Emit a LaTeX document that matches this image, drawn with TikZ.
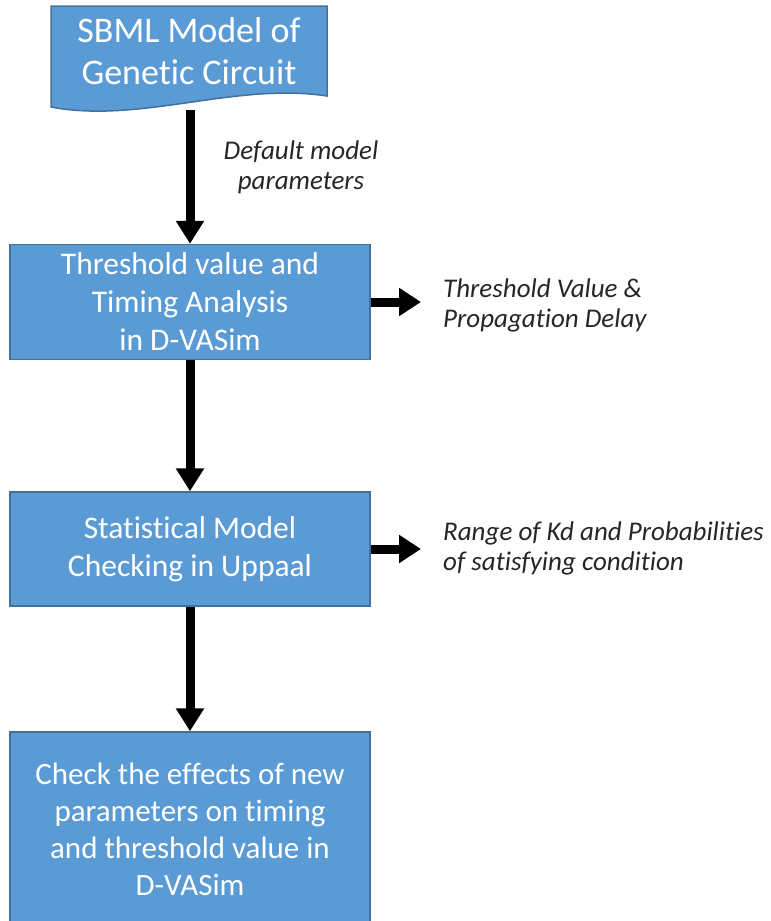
\documentclass[tikz,border=0pt]{standalone}
\usepackage{fontspec}
\setmainfont{Carlito}[Ligatures={NoCommon}]
\usetikzlibrary{arrows.meta}
\definecolor{boxfill}{HTML}{5B9BD5}
\definecolor{boxline}{HTML}{41719C}
\tikzset{
  procbox/.style={draw=boxline, line width=1.5pt, fill=boxfill, text=white,
    minimum width=360pt, align=center, inner sep=0pt,
    font=\fontsize{31.5}{38}\selectfont},
  boxtext/.style={text=white, align=center, inner sep=0pt,
    font=\fontsize{31}{37}\selectfont},
  flow/.style={line width=9pt, -{Triangle[width=27pt,length=23pt]}},
  sideflow/.style={line width=9pt, -{Triangle[width=27pt,length=22pt]}},
  lbl/.style={inner sep=0pt, font=\fontsize{27}{30}\selectfont\itshape, text=black!85}
}
\begin{document}
\begin{tikzpicture}[x=1pt,y=-1pt]
\useasboundingbox (0,0) rectangle (771,921);
\clip (0,0) rectangle (771,921);
% document shape
\path[draw=boxline, line width=1.5pt, fill=boxfill]
  (51,6) -- (327,6) -- (327,96)
  .. controls (235,82) and (140,124) .. (51,107) -- cycle;
\node[boxtext, font=\fontsize{36}{42}\selectfont] (doc) at (189,51) {SBML Model of\\Genetic Circuit};
\coordinate (docbot) at (190,110);
% boxes
\node[procbox, minimum height=115pt] (b2) at (190,302) {Threshold value and\\Timing Analysis\\in D-VASim};
\node[procbox, minimum height=114pt] (b3) at (190,549) {Statistical Model\\Checking in Uppaal};
\node[procbox, minimum height=210pt] (b4) at (190,837) {};
\node[boxtext] (t4) at (190,829) {Check the effects of new\\parameters on timing\\and threshold value in\\D-VASim};
% connectors
\draw[flow] (docbot) -- (b2.north);
\draw[flow] (b2.south) -- (b3.north);
\draw[flow] (b3.south) -- (b4.north);
\coordinate (o1) at (421,302);
\coordinate (o2) at (421,549);
\draw[sideflow] (b2.east |- o1) -- (o1);
\draw[sideflow] (b3.east |- o2) -- (o2);
% labels
\node[lbl, align=center] (l1) at (301,167) {Default model\\parameters};
\node[lbl, align=left, anchor=west] (l2) at (443,305) {Threshold Value \&\\Propagation Delay};
\node[lbl, align=left, anchor=west] (l3) at (443,548) {Range of Kd and Probabilities\\of satisfying condition};
\end{tikzpicture}
\end{document}
